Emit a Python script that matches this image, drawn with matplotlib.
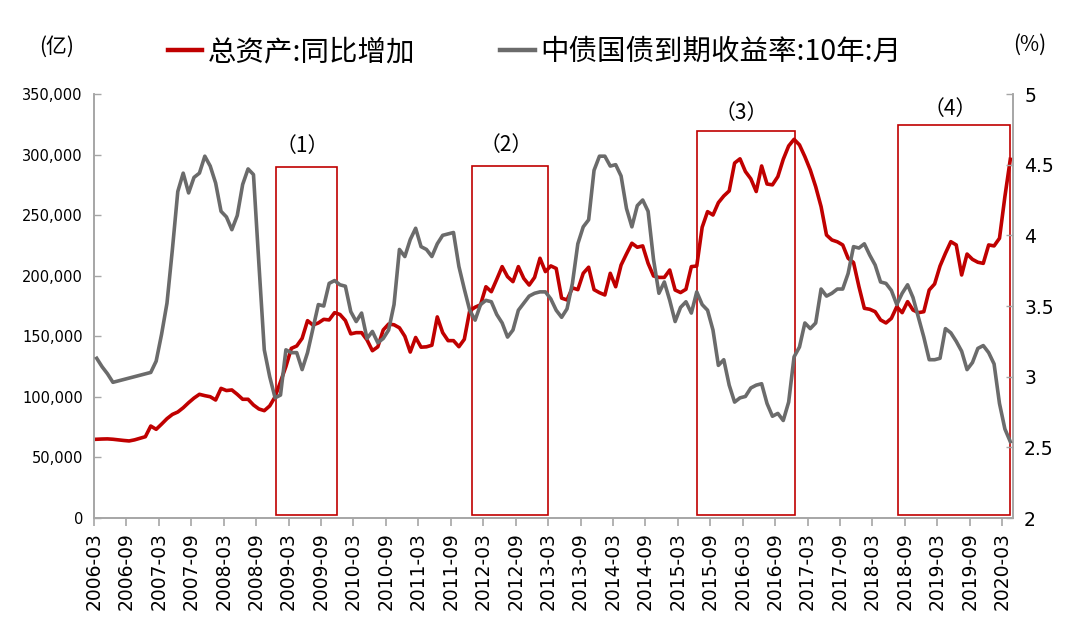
import numpy as np
import matplotlib
matplotlib.use("Agg")
import matplotlib.pyplot as plt
from matplotlib.patches import Rectangle
from matplotlib.lines import Line2D

plt.rcParams['font.family'] = ['Noto Sans CJK SC', 'DejaVu Sans']

# ---- data (monthly, 2006-03 .. 2020-04) ----
total_assets_yoy = [
    65000, 65200, 65300, 65000, 64500, 64000, 63600, 64500, 65800, 67100,
    75900, 73200, 77500, 82000, 85500, 87500, 91000, 95200, 99000, 102100,
    101000, 100100, 97400, 107000, 105200, 105700, 102100, 98000, 98000, 93300,
    90000, 88600, 92500, 100000, 112500, 125000, 140000, 142000, 148300, 162900,
    159300, 161000, 164000, 163500, 169500, 168000, 163000, 152000, 153000, 153000,
    147000, 138100, 141300, 155200, 160100, 159500, 157000, 150000, 137000, 149000,
    141000, 141300, 142600, 166000, 153000, 146400, 146400, 141400, 147500, 171000,
    174000, 176000, 190900, 186800, 197000, 207500, 199200, 195100, 207500, 197800,
    192300, 198600, 214400, 203400, 208100, 206000, 181500, 180000, 190000, 188500,
    202000, 207000, 188500, 186000, 184100, 202000, 190900, 208800, 218000, 226800,
    223500, 224600, 210200, 199800, 198600, 198600, 204700, 188200, 186100, 188800,
    207500, 208000, 240000, 252900, 250100, 260300, 265800, 270000, 293000, 296500,
    286000, 280000, 269500, 290600, 275700, 275000, 281800, 296100, 307100, 312600,
    308000, 298300, 287300, 273500, 257000, 233600, 229500, 228000, 225400, 214400,
    210900, 191000, 173100, 172300, 170300, 163500, 161000, 164800, 174400, 169500,
    178600, 171700, 169500, 170300, 188200, 193200, 208000, 218500, 228100, 225400,
    200600, 217900, 213500, 211100, 210200, 225400, 224600, 230900, 265300, 296100,
]
bond_yield_10y = [
    3.13, 3.07, 3.02, 2.96, 2.97, 2.98, 2.99, 3.00, 3.01, 3.02,
    3.03, 3.11, 3.30, 3.52, 3.90, 4.31, 4.44, 4.30, 4.41, 4.44,
    4.56, 4.49, 4.37, 4.17, 4.13, 4.04, 4.14, 4.36, 4.47, 4.43,
    3.80, 3.19, 3.00, 2.85, 2.87, 3.19, 3.17, 3.17, 3.05, 3.17,
    3.34, 3.51, 3.50, 3.66, 3.68, 3.65, 3.64, 3.46, 3.39, 3.45,
    3.27, 3.32, 3.24, 3.27, 3.33, 3.51, 3.90, 3.85, 3.97, 4.05,
    3.92, 3.90, 3.85, 3.94, 4.00, 4.01, 4.02, 3.78, 3.62, 3.47,
    3.40, 3.51, 3.54, 3.53, 3.44, 3.38, 3.28, 3.33, 3.47, 3.52,
    3.57, 3.59, 3.60, 3.60, 3.55, 3.47, 3.42, 3.48, 3.66, 3.94,
    4.06, 4.11, 4.46, 4.56, 4.56, 4.49, 4.50, 4.42, 4.19, 4.06,
    4.21, 4.25, 4.17, 3.83, 3.59, 3.67, 3.54, 3.39, 3.49, 3.53,
    3.45, 3.60, 3.51, 3.47, 3.33, 3.08, 3.12, 2.94, 2.82, 2.85,
    2.86, 2.92, 2.94, 2.95, 2.81, 2.72, 2.74, 2.69, 2.82, 3.14,
    3.21, 3.38, 3.34, 3.38, 3.62, 3.57, 3.59, 3.62, 3.62, 3.73,
    3.92, 3.91, 3.94, 3.86, 3.79, 3.67, 3.66, 3.61, 3.51, 3.59,
    3.65, 3.56, 3.42, 3.28, 3.12, 3.12, 3.13, 3.34, 3.31, 3.25,
    3.18, 3.05, 3.10, 3.20, 3.22, 3.17, 3.09, 2.81, 2.63, 2.54,
]
x_tick_labels = [
    "2006-03", "2006-09", "2007-03", "2007-09", "2008-03", "2008-09",
    "2009-03", "2009-09", "2010-03", "2010-09", "2011-03", "2011-09",
    "2012-03", "2012-09", "2013-03", "2013-09", "2014-03", "2014-09",
    "2015-03", "2015-09", "2016-03", "2016-09", "2017-03", "2017-09",
    "2018-03", "2018-09", "2019-03", "2019-09", "2020-03",
]
left_ticks = [0, 50000, 100000, 150000, 200000, 250000, 300000, 350000]
left_tick_labels = ["0", "50,000", "100,000", "150,000", "200,000",
                    "250,000", "300,000", "350,000"]
right_ticks = [2, 2.5, 3, 3.5, 4, 4.5, 5]
right_tick_labels = ["2", "2.5", "3", "3.5", "4", "4.5", "5"]
series_names = ["总资产:同比增加", "中债国债到期收益率:10年:月"]
box_labels = ["（1）", "（2）", "（3）", "（4）"]

RED = "#C00000"
GRAY = "#6B6B6B"
SPINE = "#A6A6A6"
CJK = ['Noto Sans CJK SC', 'DejaVu Sans']

fig = plt.figure(figsize=(10.8, 6.22), dpi=100)
ax = fig.add_axes([94/1080, 1 - 518/622, (1013 - 94)/1080, (518 - 94)/622])
ax2 = ax.twinx()

n = len(total_assets_yoy)
xpos = np.arange(n) + 0.5

ax.plot(xpos, total_assets_yoy, color=RED, lw=2.6, solid_joinstyle='round', zorder=3)
ax2.plot(xpos, bond_yield_10y, color=GRAY, lw=2.6, solid_joinstyle='round', zorder=3)

ax.set_xlim(0, 170)
ax.set_ylim(0, 350000)
ax2.set_ylim(2, 5)

# boxes (annotation regions) in left-axis coordinates
boxes = [(33.7, 44.9, 290000), (69.9, 84.05, 290800),
         (111.5, 129.6, 319700), (148.7, 169.5, 324400)]
label_y = [307000, 308000, 334000, 337500]
for (x0, x1, top), lab, ly in zip(boxes, box_labels, label_y):
    ax.add_patch(Rectangle((x0, 2500), x1 - x0, top - 2500, fill=False,
                           edgecolor=RED, lw=1.2, zorder=4, clip_on=False))
    ax.text((x0 + x1) / 2 - 0.8, ly, lab, ha='center', va='center',
            fontsize=15, color='black', family=CJK)

# axes styling
tick_pos = np.arange(0, 169, 6)
ax.set_xticks(tick_pos)
ax.set_xticklabels(x_tick_labels, rotation=90, fontsize=13.5,
                   family='DejaVu Sans')
ax.set_yticks(left_ticks)
ax.set_yticklabels(left_tick_labels, fontsize=10.5, family='DejaVu Sans')
ax2.set_yticks(right_ticks)
ax2.set_yticklabels(right_tick_labels, fontsize=13.5, family='DejaVu Sans')

for a in (ax, ax2):
    for s in a.spines.values():
        s.set_color(SPINE)
        s.set_linewidth(1.2)
    a.spines['top'].set_visible(False)
ax.tick_params(axis='x', direction='out', length=6, color=SPINE, width=1.2, pad=4)
ax.tick_params(axis='y', direction='in', length=5, color=SPINE, width=1, pad=8)
ax2.tick_params(axis='y', direction='in', length=5, color=SPINE, width=1, pad=8)

# units
fig.text(57/1080, 1 - 47/622, "(亿)", ha='center', va='center', fontsize=15, family=CJK)
fig.text(1030/1080, 1 - 45/622, "(%)", ha='center', va='center', fontsize=15, family=CJK)

# legend
handles = [Line2D([0], [0], color=RED, lw=3.2),
           Line2D([0], [0], color=GRAY, lw=3.2)]
fig.legend(handles, series_names, loc='center', bbox_to_anchor=(0.495, 1 - 52/622),
           ncol=2, frameon=False, prop={'family': CJK, 'size': 20.5},
           handlelength=1.2, handletextpad=0.2, columnspacing=3.0)

fig.savefig("out.png", dpi=100)
